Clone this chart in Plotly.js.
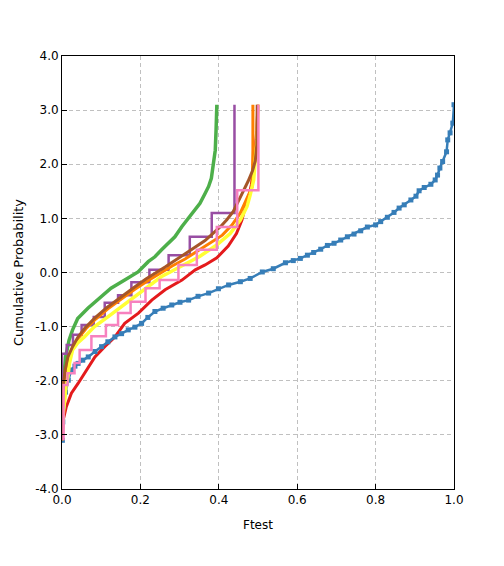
<!DOCTYPE html>
<html>
<head>
<meta charset="utf-8">
<script src="https://cdn.plot.ly/plotly-3.0.1.min.js"></script>
<style>html,body{margin:0;padding:0;background:#fff;}#chart{width:504px;height:566px;}</style>
</head>
<body>
<div id="chart"></div>
<script>
// ---- data (Ftest value vs. normal quantile of cumulative probability) ----
const redX = [0.001,0.003,0.011,0.024,0.041,0.067,0.084,0.109,0.135,0.160,0.195,0.229,0.263,0.306,0.340,0.365,0.395,0.424,0.445,0.459,0.468,0.476,0.483,0.488,0.493,0.497,0.500];
const redY = [-3.10,-2.73,-2.48,-2.23,-2.05,-1.74,-1.56,-1.37,-1.19,-0.94,-0.75,-0.51,-0.32,-0.14,0.05,0.14,0.27,0.49,0.72,0.97,1.23,1.38,1.62,1.89,2.26,2.63,3.10];

const blueX = [0.001,0.002,0.004,0.009,0.016,0.024,0.033,0.041,0.053,0.067,0.084,0.101,0.117,0.135,0.152,0.169,0.186,0.203,0.219,0.237,0.258,0.280,0.301,0.323,0.347,0.374,0.399,0.425,0.455,0.480,0.511,0.539,0.570,0.590,0.608,0.626,0.642,0.660,0.677,0.694,0.711,0.728,0.745,0.762,0.779,0.800,0.813,0.830,0.847,0.860,0.873,0.890,0.903,0.911,0.924,0.941,0.952,0.958,0.964,0.971,0.981,0.984,0.990,0.997,1.000];
const blueY = [-3.10,-2.76,-2.47,-2.21,-1.99,-1.80,-1.73,-1.68,-1.62,-1.56,-1.46,-1.37,-1.28,-1.19,-1.13,-1.06,-1.01,-0.94,-0.83,-0.72,-0.66,-0.60,-0.55,-0.51,-0.44,-0.38,-0.30,-0.23,-0.17,-0.11,0.01,0.07,0.18,0.22,0.26,0.32,0.37,0.43,0.50,0.54,0.60,0.66,0.71,0.77,0.84,0.88,0.94,1.02,1.11,1.19,1.25,1.34,1.41,1.51,1.57,1.63,1.71,1.80,1.93,2.05,2.23,2.45,2.58,2.76,3.10];

const greenX = [0.000,0.000,0.002,0.004,0.007,0.009,0.013,0.018,0.027,0.040,0.066,0.091,0.125,0.160,0.194,0.220,0.237,0.254,0.271,0.288,0.306,0.323,0.340,0.352,0.365,0.374,0.381,0.386,0.391,0.393,0.395];
const greenY = [-3.10,-2.73,-2.36,-1.99,-1.75,-1.56,-1.43,-1.25,-1.06,-0.85,-0.66,-0.51,-0.29,-0.14,0.01,0.20,0.29,0.42,0.54,0.66,0.85,1.00,1.16,1.28,1.46,1.59,1.74,1.96,2.26,2.63,3.10];

const purpleX = [0.000,0.000,0.012,0.028,0.050,0.081,0.109,0.143,0.177,0.223,0.272,0.326,0.382,0.440];
const purpleY = [-3.10,-1.50,-1.34,-1.15,-0.97,-0.82,-0.56,-0.42,-0.18,0.05,0.32,0.66,1.10,3.10];

const orangeX = [0.000,0.001,0.003,0.007,0.015,0.025,0.040,0.061,0.086,0.117,0.150,0.184,0.217,0.250,0.281,0.314,0.347,0.378,0.409,0.434,0.455,0.470,0.485,0.487,0.487];
const orangeY = [-3.10,-2.63,-2.21,-1.91,-1.65,-1.43,-1.23,-1.04,-0.86,-0.67,-0.49,-0.32,-0.16,-0.01,0.12,0.25,0.40,0.55,0.69,0.88,1.10,1.34,1.58,2.26,3.10];

const yellowX = [0.000,0.003,0.007,0.010,0.015,0.019,0.027,0.040,0.057,0.083,0.117,0.151,0.185,0.219,0.253,0.276,0.310,0.352,0.395,0.429,0.455,0.472,0.480,0.489,0.493,0.497,0.500];
const yellowY = [-3.10,-2.63,-2.36,-2.11,-1.93,-1.68,-1.43,-1.30,-1.19,-1.00,-0.82,-0.63,-0.45,-0.27,-0.08,0.01,0.14,0.30,0.51,0.72,0.97,1.22,1.43,1.71,2.08,2.45,3.10];

const brownX = [0.000,0.000,0.002,0.004,0.008,0.015,0.027,0.040,0.058,0.084,0.114,0.148,0.181,0.214,0.237,0.263,0.288,0.314,0.340,0.365,0.388,0.406,0.421,0.437,0.450,0.463,0.475,0.486,0.493,0.497,0.498,0.498];
const brownY = [-3.10,-2.60,-2.30,-2.05,-1.80,-1.56,-1.37,-1.20,-1.03,-0.84,-0.65,-0.46,-0.29,-0.12,-0.02,0.10,0.22,0.34,0.46,0.59,0.74,0.86,0.98,1.13,1.32,1.51,1.69,1.88,2.06,2.36,2.73,3.10];

const pinkX = [0.004,0.004,0.014,0.032,0.045,0.075,0.112,0.143,0.175,0.213,0.249,0.297,0.344,0.395,0.447,0.501];
const pinkY = [-3.10,-2.08,-1.86,-1.67,-1.43,-1.18,-0.97,-0.75,-0.54,-0.29,-0.14,0.14,0.42,0.84,1.52,3.10];

const xTickVals = [0.0,0.2,0.4,0.6,0.8,1.0];
const xTickText = ['0.0','0.2','0.4','0.6','0.8','1.0'];
const yTickVals = [-4,-3,-2,-1,0,1,2,3,4];
const yTickText = ['-4.0','-3.0','-2.0','-1.0','0.0','1.0','2.0','3.0','4.0'];

const colors = {red:'#e41a1c', blue:'#377eb8', green:'#4daf4a', purple:'#984ea3',
                orange:'#ff7f00', yellow:'#ffff33', brown:'#a65628', pink:'#f781bf'};

function lineTrace(x, y, color, width, shape) {
  return {x: x, y: y, type: 'scatter', mode: 'lines',
          line: {color: color, width: width, shape: shape || 'linear'},
          hoverinfo: 'skip', showlegend: false};
}

const traces = [
  lineTrace(redX, redY, colors.red, 3),
  {x: blueX, y: blueY, type: 'scatter', mode: 'lines+markers',
   line: {color: colors.blue, width: 2.5},
   marker: {color: colors.blue, size: 5, symbol: 'square'},
   hoverinfo: 'skip', showlegend: false},
  lineTrace(greenX, greenY, colors.green, 3.5),
  lineTrace(purpleX, purpleY, colors.purple, 2.5, 'hv'),
  lineTrace(orangeX, orangeY, colors.orange, 3),
  lineTrace(yellowX, yellowY, colors.yellow, 3.5),
  lineTrace(brownX, brownY, colors.brown, 3),
  lineTrace(pinkX, pinkY, colors.pink, 2.5, 'hv')
];

const fontFam = 'DejaVu Sans, Verdana, sans-serif';
const layout = {
  width: 504, height: 566,
  margin: {l: 62, r: 50, t: 56, b: 77, pad: 0},
  paper_bgcolor: '#ffffff', plot_bgcolor: '#ffffff',
  font: {family: fontFam, size: 12, color: '#000000'},
  showlegend: false,
  xaxis: {
    range: [0, 1], tickmode: 'array', tickvals: xTickVals, ticktext: xTickText,
    ticks: 'inside', ticklen: 5, tickcolor: '#000', tickwidth: 1,
    showline: true, linecolor: '#000', linewidth: 1, mirror: true,
    showgrid: true, gridcolor: '#c0c0c0', griddash: '4px,3px', gridwidth: 1,
    zeroline: false, automargin: false,
    title: {text: 'Ftest', font: {family: fontFam, size: 12, color: '#000'}, standoff: 14}
  },
  yaxis: {
    range: [-4, 4], tickmode: 'array', tickvals: yTickVals, ticktext: yTickText,
    ticks: 'inside', ticklen: 5, tickcolor: '#000', tickwidth: 1,
    showline: true, linecolor: '#000', linewidth: 1, mirror: true,
    showgrid: true, gridcolor: '#c0c0c0', griddash: '4px,3px', gridwidth: 1,
    zeroline: false, automargin: false,
    title: {text: 'Cumulative Probability', font: {family: fontFam, size: 13, color: '#000'}, standoff: 8}
  }
};

Plotly.newPlot('chart', traces, layout, {staticPlot: true, displayModeBar: false});
</script>
</body>
</html>
